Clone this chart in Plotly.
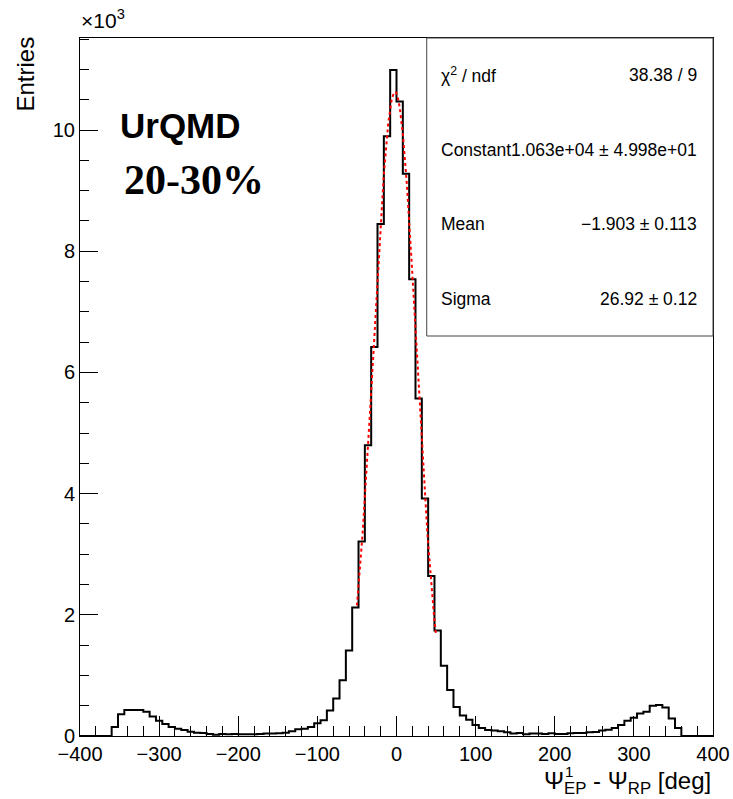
import numpy as np
import plotly.graph_objects as go

# Histogram binning: 100 bins of 8 deg on [-400, 400]
bin_lo, bin_hi, n_bins = -400.0, 400.0, 100

# Bin contents (entries), bin i covers [-400 + 8 i, -392 + 8 i]
entries = [
    0, 0, 0, 0, 0,
    150, 360, 430, 430, 430, 400, 320, 250, 200, 150,
    120, 100, 70, 55, 50, 35, 20, 35, 30, 35,
    30, 30, 30, 35, 40, 40, 45, 55, 80, 110,
    120, 150, 210, 260, 420, 620, 920, 1410, 2120, 3210,
    4800, 6420, 8450, 9900, 10990, 10470, 9280, 7540, 5570, 3920,
    2640, 1740, 1160, 760, 480, 340, 270, 180, 130, 100,
    90, 80, 60, 40, 50, 30, 40, 40, 35, 45,
    35, 35, 45, 50, 50, 60, 65, 90, 105, 130,
    180, 250, 300, 370, 400, 500, 510, 470, 290, 130,
    0, 0, 0, 0, 0,
]

# Gaussian fit result
fit_constant = 1.063e4
fit_mean = -1.903
fit_sigma = 26.92
fit_range = (-50.0, 50.0)

stats_labels = ["χ<sup>2</sup> / ndf", "Constant", "Mean", "Sigma"]
stats_values = ["38.38 / 9", "1.063e+04 ± 4.998e+01", "−1.903 ± 0.113", "26.92 ± 0.12"]

x_ticks = list(range(-400, 401, 100))
y_ticks = [0, 2000, 4000, 6000, 8000, 10000]
y_ticktext = ["0", "2", "4", "6", "8", "10"]
y_max = 11520

# ---- figure geometry (pixels) ----
W, H = 733, 799
L, R, T, B = 80, 19.5, 38, 63
pw, ph = W - L - R, H - T - B


def px(x):
    return (x - L) / pw


def py(y):
    return (H - B - y) / ph


edges = np.linspace(bin_lo, bin_hi, n_bins + 1)
step_x = list(edges)
step_y = list(entries) + [entries[-1]]

fx = np.linspace(fit_range[0], fit_range[1], 300)
fy = fit_constant * np.exp(-0.5 * ((fx - fit_mean) / fit_sigma) ** 2)

fig = go.Figure()
fig.add_trace(go.Scatter(
    x=step_x, y=step_y, mode="lines", line_shape="hv",
    line=dict(color="black", width=2), hoverinfo="skip", showlegend=False,
))
fig.add_trace(go.Scatter(
    x=fx, y=fy, mode="lines",
    line=dict(color="red", width=2, dash="dot"), hoverinfo="skip", showlegend=False,
))

font = "Liberation Sans, Arial, Helvetica, sans-serif"

fig.update_layout(
    width=W, height=H, autosize=False,
    margin=dict(l=L, r=R, t=T, b=B, autoexpand=False),
    paper_bgcolor="white", plot_bgcolor="white",
    font=dict(family=font, color="black", size=20),
    showlegend=False,
)
fig.update_xaxes(
    range=[bin_lo, bin_hi], tickvals=x_ticks, ticks="inside", ticklen=20,
    tickcolor="black", tickwidth=1, automargin=False,
    minor=dict(dtick=20, ticks="inside", ticklen=10, tickcolor="black", tickwidth=1),
    showline=True, mirror=True, linecolor="black", linewidth=1,
    showgrid=False, zeroline=False, tickfont=dict(size=20),
)
fig.update_yaxes(
    range=[0, y_max], tickvals=y_ticks, ticktext=y_ticktext, ticks="inside", ticklen=18,
    tickcolor="black", tickwidth=1, automargin=False,
    minor=dict(dtick=500, ticks="inside", ticklen=9, tickcolor="black", tickwidth=1),
    showline=True, mirror=True, linecolor="black", linewidth=1,
    showgrid=False, zeroline=False, tickfont=dict(size=20),
)

# statistics box
fig.add_shape(type="rect", xref="paper", yref="paper",
              x0=px(427), x1=px(713.5), y0=py(336), y1=py(38),
              fillcolor="white", line=dict(color="#444", width=1), layer="above")

ann = []
row_y = [75, 150, 224, 299]
for lab, val, yy in zip(stats_labels, stats_values, row_y):
    ann.append(dict(text=lab, x=px(439), y=py(yy), xanchor="left", yanchor="middle",
                    font=dict(size=17.5)))
    ann.append(dict(text=val, x=px(699), y=py(yy), xanchor="right", yanchor="middle",
                    font=dict(size=17.5)))

# axis titles and labels
ann.append(dict(text="Entries", x=px(25), y=py(35), xanchor="center", yanchor="top",
                textangle=-90, font=dict(size=24)))
ann.append(dict(text="×10<sup>3</sup>", x=px(79), y=py(4), xanchor="left", yanchor="top",
                font=dict(size=21)))
ann.append(dict(text="Ψ<sub>EP</sub> - Ψ<sub>RP</sub> [deg]", x=px(713), y=py(782),
                xanchor="right", yanchor="middle", font=dict(size=24)))
ann.append(dict(text="1", x=px(563), y=py(771), xanchor="left", yanchor="middle",
                font=dict(size=15)))

ann.append(dict(text="<b>UrQMD</b>", x=px(118), y=py(126), xanchor="left", yanchor="middle",
                font=dict(size=35, family=font)))
ann.append(dict(text="<b>20-30%</b>", x=px(122), y=py(180), xanchor="left", yanchor="middle",
                font=dict(size=42, family="Liberation Serif, Times New Roman, serif")))

for a in ann:
    a.update(xref="paper", yref="paper", showarrow=False)
fig.update_layout(annotations=ann)

fig.write_html("out.html")
